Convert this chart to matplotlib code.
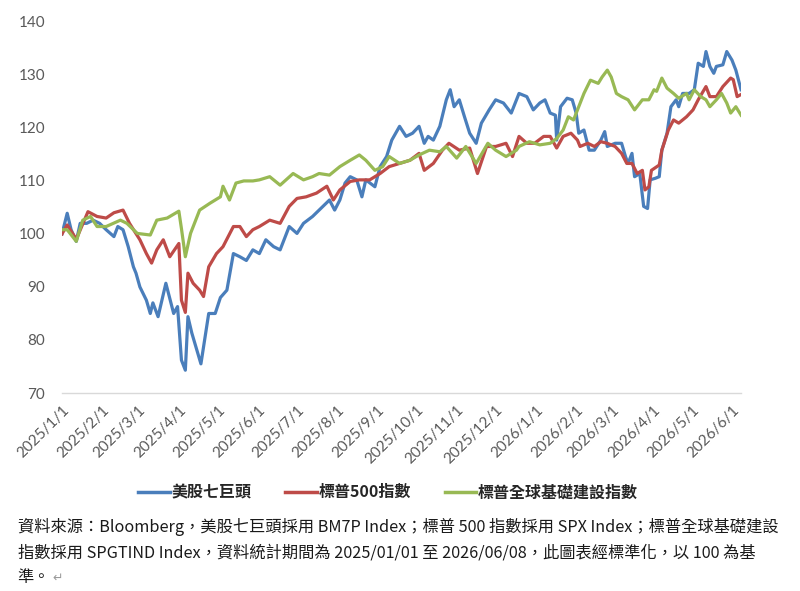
import numpy as np
import pandas as pd
import matplotlib
matplotlib.use("Agg")
import matplotlib.pyplot as plt
from matplotlib.lines import Line2D

plt.rcParams['font.family'] = ['Lato', 'Noto Sans CJK TC', 'DejaVu Sans']

# day offsets from 2025/1/1 and normalised index values
m7_days = [0, 4, 7, 11, 14, 19, 24, 29, 34, 40, 43, 47, 51, 55, 57, 60, 65, 68, 70, 74,
           80, 86, 89, 92, 95, 97, 100, 104, 107, 113, 118, 122, 127, 132, 137, 142, 147,
           152, 157, 163, 168, 175, 181, 186, 193, 201, 206, 210, 214, 218, 222, 227, 231,
           234, 241, 245, 250, 254, 260, 265, 270, 275, 279, 282, 286, 291, 296, 299, 302,
           306, 310, 314, 319, 323, 329, 334, 340, 346, 350,
           352, 358, 363, 368, 372, 376, 380, 381, 384, 389, 393, 396, 398, 402, 406, 410,
           415, 418, 420, 426, 431, 434, 436, 439, 441, 445, 448, 451, 453, 457, 460, 462,
           466, 469, 473, 475, 478, 483, 487, 490, 494, 496, 499, 502, 504, 509, 512, 516,
           519, 523]
m7_vals = [100, 103.9, 100.8, 98.6, 102, 102, 102.6, 102, 100.8, 99.5, 101.4, 100.8, 97.6,
           93.8, 92.6, 90, 87.5, 85, 87, 84.4, 90.7, 85, 86.3, 76.2, 74.3, 84.4, 81.3, 78,
           75.5, 85, 85, 88, 89.4, 96.3, 95.7, 95, 97,
           96.3, 98.9, 97.6, 97, 101.4, 100.1, 102, 103.3, 105.2, 106.4, 104.5, 106.4, 109.6,
           110.8, 110.2, 107, 110.2, 108.9, 112.7, 114.6, 117.7, 120.3, 118.4, 119, 120.3,
           117.1, 118.4, 117.7, 120.3, 125.3, 127.2, 124, 125.3, 122.1, 119, 117.1, 120.9,
           123.4, 125.3, 124.7, 122.8, 125.3,
           126.5, 125.9, 123.4, 124.7, 125.3, 122.8, 122.4, 117.7, 124, 125.6, 125.3, 122.8,
           119, 119.6, 115.8, 115.8, 117.7, 119.3, 116.5, 117.1, 117.1, 114.6, 113.3, 115.2,
           110.8, 111.4, 105.2, 104.8, 110.2, 110.5, 110.8, 115.8, 119, 124, 125.3, 124,
           126.5, 126.5, 127.2, 132.2, 131.6, 134.4, 131.6, 130.3, 131.6, 131.9, 134.4,
           132.8, 130.9, 127.2]

spx_days = [0, 4, 11, 20, 27, 34, 40, 47, 52, 60, 65, 69, 73, 78, 83, 90, 92, 95, 97, 101,
            106, 109, 113, 119, 124, 132, 137, 142, 147,
            152, 160, 168, 175, 181, 188, 196, 204, 209, 214, 222, 229, 237, 245, 252, 260,
            268, 275, 279, 286, 293, 298, 306, 314, 320, 327, 334, 342, 347,
            352, 358, 364, 371, 376, 381, 386, 392, 397, 399, 405, 410, 415, 420, 426, 431,
            435, 439, 443, 447, 449, 452, 454, 460, 462, 467, 471, 475, 481, 486, 490, 496,
            499, 504, 509, 515, 517, 520, 523]
spx_vals = [100, 101.7, 99, 104.2, 103.3, 103, 104, 104.5, 102, 98.9, 96.3, 94.5, 97, 98.9,
            95.7, 98.2, 87.5, 85.2, 92.6, 90.7, 89.4, 88.2, 93.8, 96.3, 97.6, 101.4, 101.4,
            99.5, 100.8,
            101.4, 102.6, 102, 105.2, 106.7, 107, 107.7, 109, 106.4, 108.3, 109.9, 110.2,
            110.2, 111.4, 112.7, 113.3, 113.9, 115.2, 112, 113.3, 115.8, 117.1, 115.8, 116.2,
            111.4, 116.5, 116.5, 117.1, 114.6,
            118.4, 117.1, 117.1, 118.4, 118.4, 116.2, 118.4, 119, 117.7, 116.5, 117.1, 116.5,
            117.4, 117.1, 116.5, 115.2, 113.3, 113.3, 111.4, 112, 108.3, 108.9, 112, 113,
            115.8, 119.6, 121.5, 120.9, 122.1, 123.4, 125.3, 127.8, 125.9, 125.9, 127.8,
            129.4, 129.1, 125.9, 126.3]

infra_days = [0, 4, 11, 16, 22, 27, 34, 45, 50, 58, 68, 73, 81, 90, 92, 95, 99, 106, 114,
              122, 124, 129, 134, 140, 147,
              152, 160, 168, 178, 186, 193, 198, 206, 214, 222, 229, 234, 241, 247, 252, 260,
              268, 275, 283, 291, 296, 304, 311, 319, 328, 334, 342, 350,
              352, 360, 368, 376, 381, 386, 390, 394, 398, 402, 407, 413, 416, 420, 423, 427,
              431, 436, 441, 447, 452, 456, 458, 462, 466, 471, 475, 481, 483, 487, 492, 496,
              499, 504, 508, 512, 515, 519, 523]
infra_vals = [100.8, 100.8, 98.6, 102.6, 103.3, 101.4, 101.4, 102.6, 102, 100.1, 99.8, 102.6,
              103, 104.3, 101, 95.7, 100.1, 104.5, 105.8, 107, 109, 106.4, 109.6, 110, 110,
              110.2, 110.8, 109.2, 111.4, 110.2, 110.8, 111.4, 111.1, 112.7, 113.9, 114.9,
              113.9, 112, 112.7, 114.6, 113.3, 113.9, 114.9, 115.8, 115.5, 116.5, 114.3, 116.5,
              113.3, 117.1, 115.8, 114.6, 115.8,
              116.5, 117.4, 116.8, 117.1, 118, 119.6, 122.1, 121.5, 124, 126.5, 129, 128.4,
              129.6, 130.9, 129.6, 126.5, 125.9, 125.3, 123.4, 125.3, 125.3, 127.2, 126.9,
              129.4, 127.5, 126.5, 125.6, 126.5, 125.3, 127.2, 125.9, 125.3, 124, 125.3, 126.5,
              124.7, 122.8, 124, 122.4]

series_names = ['美股七巨頭', '標普500指數', '標普全球基礎建設指數']
colors = ['#4A7EBB', '#BE4B48', '#98B954']

month_ticks = pd.date_range('2025-01-01', '2026-06-01', freq='MS')
tick_labels = [f'{d.year}/{d.month}/{d.day}' for d in month_ticks]
y_ticks = [70, 80, 90, 100, 110, 120, 130, 140]

source_lines = ['資料來源：Bloomberg，美股七巨頭採用 BM7P Index；標普 500 指數採用 SPX Index；標普全球基礎建設',
                '指數採用 SPGTIND Index，資料統計期間為 2025/01/01 至 2026/06/08，此圖表經標準化，以 100 為基',
                '準。']

base = pd.Timestamp('2025-01-01')

fig = plt.figure(figsize=(8, 5.91), dpi=100)
ax = fig.add_axes([0.0775, 0.335, 0.8488, 0.628])

for days, vals, c in zip([m7_days, spx_days, infra_days],
                         [m7_vals, spx_vals, infra_vals], colors):
    dates = base + pd.to_timedelta(np.array(days), unit='D')
    ax.plot(dates, vals, color=c, lw=2.3, solid_joinstyle='round')

ax.set_ylim(70, 140)
ax.set_yticks(y_ticks)
ax.set_xlim(base, pd.Timestamp('2026-06-08'))
ax.set_xticks(month_ticks)
ax.set_xticklabels(tick_labels, rotation=45, ha='right', va='top',
                   rotation_mode='anchor')
ax.tick_params(axis='both', length=0, labelsize=11, labelcolor='#595959')
ax.tick_params(axis='y', pad=12)
ax.tick_params(axis='x', pad=7)
for s in ['top', 'right', 'left']:
    ax.spines[s].set_visible(False)
ax.spines['bottom'].set_color('#D9D9D9')
ax.spines['bottom'].set_linewidth(1)

handles = [Line2D([0], [0], color=c, lw=2.5) for c in colors]
fig.legend(handles, series_names, loc='center', bbox_to_anchor=(0.485, 0.167),
           ncol=3, frameon=False, handlelength=2.0, handletextpad=0.1,
           columnspacing=2.1, prop={'family': 'Noto Sans CJK TC', 'size': 11.5,
                                    'weight': 'bold'}, labelcolor='#262626')

# source note, one line at a time
line_y = [0.108, 0.065, 0.022]
for txt, yy in zip(source_lines, line_y):
    t = fig.text(0.022, yy, txt, ha='left', va='center', fontsize=11.7,
                 family=['Noto Sans CJK TC', 'DejaVu Sans'], color='#1a1a1a')
# paragraph mark after the last line
plt.annotate('↵', xy=(1, 0.5), xycoords=t, xytext=(2, 0), textcoords='offset points',
             ha='left', va='center', fontsize=9, family=['DejaVu Sans'], color='#9a9a9a',
             annotation_clip=False)

fig.savefig('out.png', dpi=100)
